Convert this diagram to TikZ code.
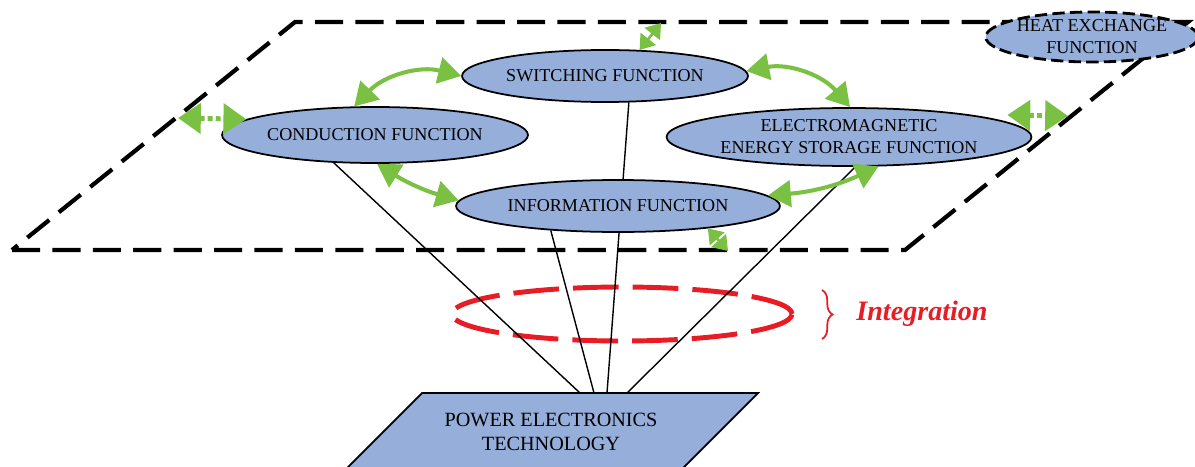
\documentclass[tikz,border=0pt]{standalone}
\usepackage{fontspec}
\setmainfont{Liberation Serif}
\usetikzlibrary{shapes.geometric,arrows.meta,decorations.pathreplacing}
\definecolor{fnblue}{RGB}{149,174,218}
\definecolor{lnkgreen}{RGB}{122,192,66}
\definecolor{intred}{RGB}{232,28,36}

\begin{document}
\begin{tikzpicture}[x=0.02cm,y=0.02cm,
  func/.style={ellipse,draw=black,line width=1pt,fill=fnblue,inner sep=0pt,
    align=center,font=\fontsize{10.3}{12.5}\selectfont},
  link/.style={lnkgreen,line width=2.3pt,
    {Triangle[length=13pt,width=15pt]}-{Triangle[length=13pt,width=15pt]}},
  dotlink/.style={lnkgreen,line width=2.8pt,dash pattern=on 2.8pt off 1.8pt,
    {Triangle[length=13pt,width=17pt]}-{Triangle[length=13pt,width=17pt]}},
  smalllink/.style={lnkgreen,line width=1.5pt,
    {Triangle[length=8pt,width=11pt]}-{Triangle[length=8pt,width=11pt]}},
  leg/.style={black,line width=0.8pt}]
\useasboundingbox (0,0) rectangle (1195,-466);

% plane of the functions
\draw[line width=2.4pt,dash pattern=on 16pt off 7pt]
  (12,-250) -- (905,-250) -- (1188,-22) -- (295,-22) -- cycle;
\coordinate (topc) at (661,-23);
\coordinate (botc) at (728,-251);
\coordinate (lfree) at (178,-118);
\coordinate (rfree) at (1068,-116);

% power electronics technology
\filldraw[fill=fnblue,draw=black,line width=1pt]
  (422,-393) -- (758,-393) -- (661,-490) -- (325,-490) -- cycle;
\node[font=\fontsize{11.5}{13.6}\selectfont,align=center] (pe) at (551,-432)
  {POWER ELECTRONICS\\TECHNOLOGY};
\coordinate (pe1) at (580,-393);
\coordinate (pe2) at (594,-393);
\coordinate (pe3) at (607,-393);
\coordinate (pe4) at (627,-393);

% integration
\draw[intred,line width=2.8pt,dash pattern=on 26pt off 8pt]
  (622,-314) ellipse [x radius=170, y radius=27];
\draw[intred,line width=1pt,decorate,decoration={brace,amplitude=6pt}]
  (822,-290) -- (822,-339);
\node[intred,font=\fontsize{16}{18}\selectfont\bfseries\itshape] (integ) at (922,-314)
  {Integration};

% functions
\node[func,minimum width=5.72cm,minimum height=1.04cm] (sw) at (605,-76)
  {SWITCHING FUNCTION};
\node[func,minimum width=6.12cm,minimum height=1.12cm] (cond) at (375,-135)
  {CONDUCTION FUNCTION};
\node[func,minimum width=7.3cm,minimum height=1.16cm] (em) at (849,-137)
  {ELECTROMAGNETIC\\ENERGY STORAGE FUNCTION};
\node[func,draw=black,line width=1.6pt,dash pattern=on 7pt off 3pt,
  minimum width=4.2cm,minimum height=1cm] (heat) at (1092,-37)
  {HEAT EXCHANGE\\FUNCTION};
\draw[leg] (sw.-48) -- (pe3);
\draw[leg] (cond.214) -- (pe1);
\draw[leg] (em.-78) -- (pe4);
\node[func,minimum width=6.48cm,minimum height=1.04cm] (info) at (618,-206)
  {INFORMATION FUNCTION};
\draw[leg] (info.200) -- (pe2);

% interactions
\draw[link] (cond.126) to[bend left=30] (sw.180);
\draw[link] (sw.2) to[bend left=30] (em.88);
\draw[link] (cond.-86) to[bend right=8] (info.178);
\draw[link] (info.4) to[bend right=10] (em.-45);
\draw[dotlink] (lfree) -- (cond.173);
\draw[dotlink] ([shift={(-25,22)}]em.east) -- (rfree);
\draw[smalllink] (sw.37) -- (topc);
\draw[smalllink] (info.-14) -- (botc);
\end{tikzpicture}
\end{document}
